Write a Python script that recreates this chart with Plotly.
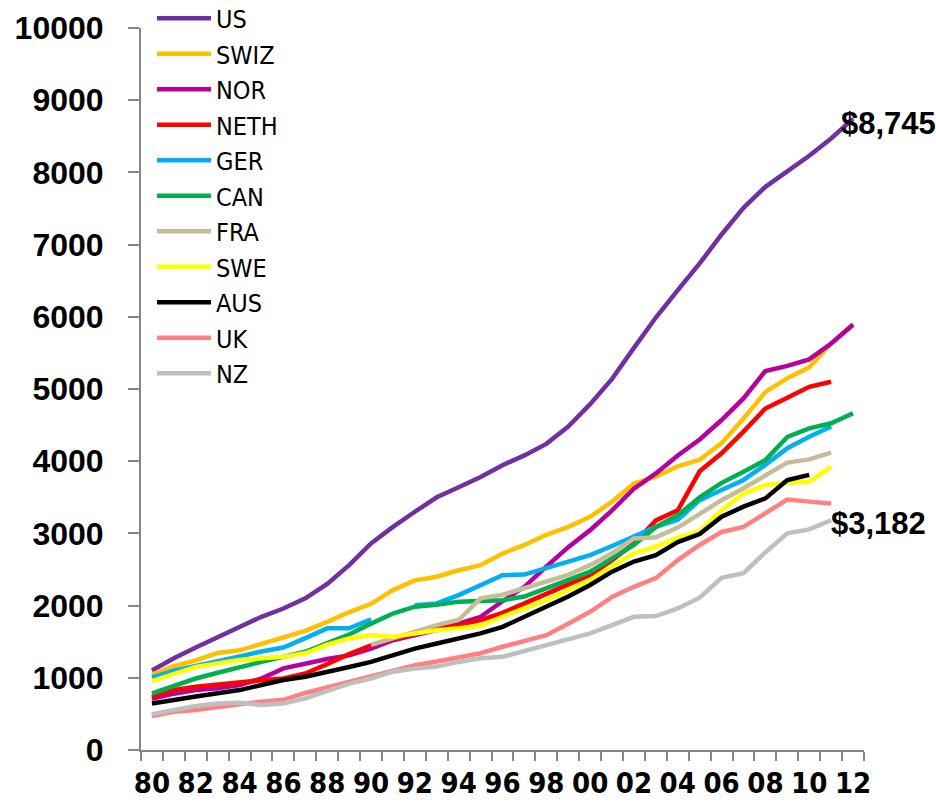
import plotly.graph_objects as go

years = list(range(1980, 2013))

US = [1100, 1270, 1420, 1560, 1705, 1845, 1960, 2100, 2300, 2560, 2860, 3090, 3300, 3500, 3640, 3780, 3945, 4080, 4240, 4480,
      4790, 5140, 5570, 5990, 6370, 6740, 7140, 7510, 7800, 8010, 8230, 8470, 8745]
SWIZ = [1040, 1160, 1240, 1345, 1380, 1470, 1555, 1650, 1775, 1910, 2025, 2215, 2350, 2400, 2490, 2560, 2720, 2840, 2980, 3090,
        3230, 3440, 3690, 3785, 3930, 4020, 4250, 4590, 4960, 5150, 5300, 5630, 5900]
NOR = [710, 780, 830, 855, 900, 990, 1130, 1200, 1260, 1310, 1405, 1520, 1590, 1660, 1750, 1845, 2060, 2260, 2540, 2810,
       3045, 3320, 3620, 3830, 4080, 4300, 4570, 4870, 5250, 5320, 5410, 5630, 5890]
NETH = [735, 830, 875, 910, 930, 965, 990, 1060, 1190, 1330, 1450, 1545, 1615, 1685, 1730, 1800, 1900, 2030, 2150, 2285,
        2425, 2630, 2860, 3180, 3320, 3860, 4110, 4410, 4730, 4880, 5030, 5100, None]
GER = [1005, 1100, 1165, 1225, 1295, 1365, 1420, 1550, 1685, 1685, 1810, None, 2005, 2030, 2145, 2280, 2420, 2430, 2515, 2610,
       2700, 2825, 2955, 3090, 3190, 3460, 3600, 3740, 3950, 4180, 4340, 4480, None]
CAN = [785, 885, 990, 1070, 1150, 1220, 1290, 1360, 1480, 1600, 1750, 1890, 1985, 2010, 2055, 2065, 2075, 2125, 2240, 2355,
       2470, 2655, 2840, 3090, 3250, 3500, 3700, 3855, 4015, 4335, 4455, 4525, 4665]
FRA = [None, None, None, None, None, None, None, None, None, None, 1455, 1545, 1640, 1730, 1800, 2100, 2150, 2240, 2330, 2425,
       2560, 2725, 2930, 2945, 3080, 3277, 3460, 3625, 3810, 3980, 4025, 4120, None]
SWE = [955, 1060, 1150, 1200, 1245, 1270, 1290, 1340, 1460, 1545, 1590, 1570, 1615, 1660, 1685, 1720, 1845, 1960, 2075, 2215,
       2355, 2540, 2725, 2815, 2940, 3030, 3320, 3550, 3670, 3700, 3715, 3925, None]
AUS = [645, 700, 740, 785, 830, 900, 970, 1015, 1075, 1150, 1220, 1315, 1405, 1475, 1545, 1615, 1705, 1845, 1985, 2125,
       2285, 2470, 2610, 2700, 2880, 2990, 3230, 3370, 3485, 3740, 3810, None, None]
UK = [470, 530, 555, 600, 635, 670, 695, 790, 870, 940, 1015, 1105, 1175, 1225, 1290, 1340, 1430, 1510, 1590, 1750,
      1915, 2120, 2260, 2380, 2630, 2840, 3020, 3090, 3280, 3470, 3440, 3415, None]
NZ = [495, 555, 610, 645, 655, 625, 645, 715, 810, 920, 990, 1085, 1130, 1155, 1220, 1270, 1290, 1370, 1450, 1525,
      1615, 1730, 1845, 1855, 1960, 2110, 2385, 2450, 2740, 3000, 3055, 3182, None]

series_names = ["US", "SWIZ", "NOR", "NETH", "GER", "CAN", "FRA", "SWE", "AUS", "UK", "NZ"]
series_values = [US, SWIZ, NOR, NETH, GER, CAN, FRA, SWE, AUS, UK, NZ]
series_colors = ["#7030A0", "#FFC000", "#B5009F", "#FF0000", "#00B0F0", "#00B050",
                 "#C4BD97", "#FFFF00", "#000000", "#FF8080", "#BFBFBF"]

x_tickvals = list(range(1980, 2013, 2))
x_ticktext = ["80", "82", "84", "86", "88", "90", "92", "94", "96", "98",
              "00", "02", "04", "06", "08", "10", "12"]
y_tickvals = list(range(0, 10001, 1000))
y_ticktext = [str(v) for v in y_tickvals]

label_us = "$8,745"
label_nz = "$3,182"

fig = go.Figure()
for name, vals, col in zip(series_names, series_values, series_colors):
    fig.add_trace(go.Scatter(
        x=years, y=vals, name=name, mode="lines",
        line=dict(color=col, width=4.5),
        connectgaps=False, legendgroup=name,
    ))

axis_gray = "#868686"
narrow = "Liberation Sans Narrow, DejaVu Sans Condensed, Arial Narrow, sans-serif"
arial = "Liberation Sans, Arial, sans-serif"

fig.update_layout(
    width=936, height=803,
    margin=dict(l=141, r=72, t=28, b=53, autoexpand=False),
    paper_bgcolor="white", plot_bgcolor="white",
    showlegend=True,
    legend=dict(
        xref="paper", yref="paper",
        x=0.0152, y=1.045, xanchor="left", yanchor="top",
        bgcolor="rgba(0,0,0,0)",
        font=dict(family=narrow, size=25, color="black"),
        traceorder="normal",
        tracegroupgap=3,
        itemwidth=54,
        maxheight=780,
    ),
    xaxis=dict(
        range=[1979.5, 2012.5], automargin=False,
        tickmode="array", tickvals=x_tickvals, ticktext=x_ticktext,
        ticks="", showgrid=False, zeroline=False,
        showline=True, linecolor=axis_gray, linewidth=2,
        tickfont=dict(family=narrow, size=29, color="black", weight="bold"),
        ticklabelstandoff=6,
        minor=dict(tickmode="linear", tick0=1979.5, dtick=1, ticks="outside",
                   ticklen=9, tickwidth=2, tickcolor=axis_gray, showgrid=False),
    ),
    yaxis=dict(
        range=[0, 10000], automargin=False,
        tickmode="array", tickvals=y_tickvals, ticktext=y_ticktext,
        ticks="outside", ticklen=11, tickwidth=2, tickcolor=axis_gray,
        showgrid=False, zeroline=False,
        showline=True, linecolor=axis_gray, linewidth=2,
        tickfont=dict(family=arial, size=32, color="black", weight="bold"),
        ticklabelstandoff=18,
    ),
    annotations=[
        dict(x=2012, y=8745, xref="x", yref="y", text=label_us, showarrow=False,
             xanchor="left", yanchor="middle", xshift=-14, yshift=-5,
             font=dict(family=arial, size=31, color="black", weight="bold")),
        dict(x=2011, y=3182, xref="x", yref="y", text=label_nz, showarrow=False,
             xanchor="left", yanchor="middle", xshift=-2, yshift=-3,
             font=dict(family=arial, size=31, color="black", weight="bold")),
    ],
)

fig.write_html(
    "out.html",
    config={"displayModeBar": False},
    post_script="document.body.style.margin='0px';document.body.style.padding='0px';",
)
